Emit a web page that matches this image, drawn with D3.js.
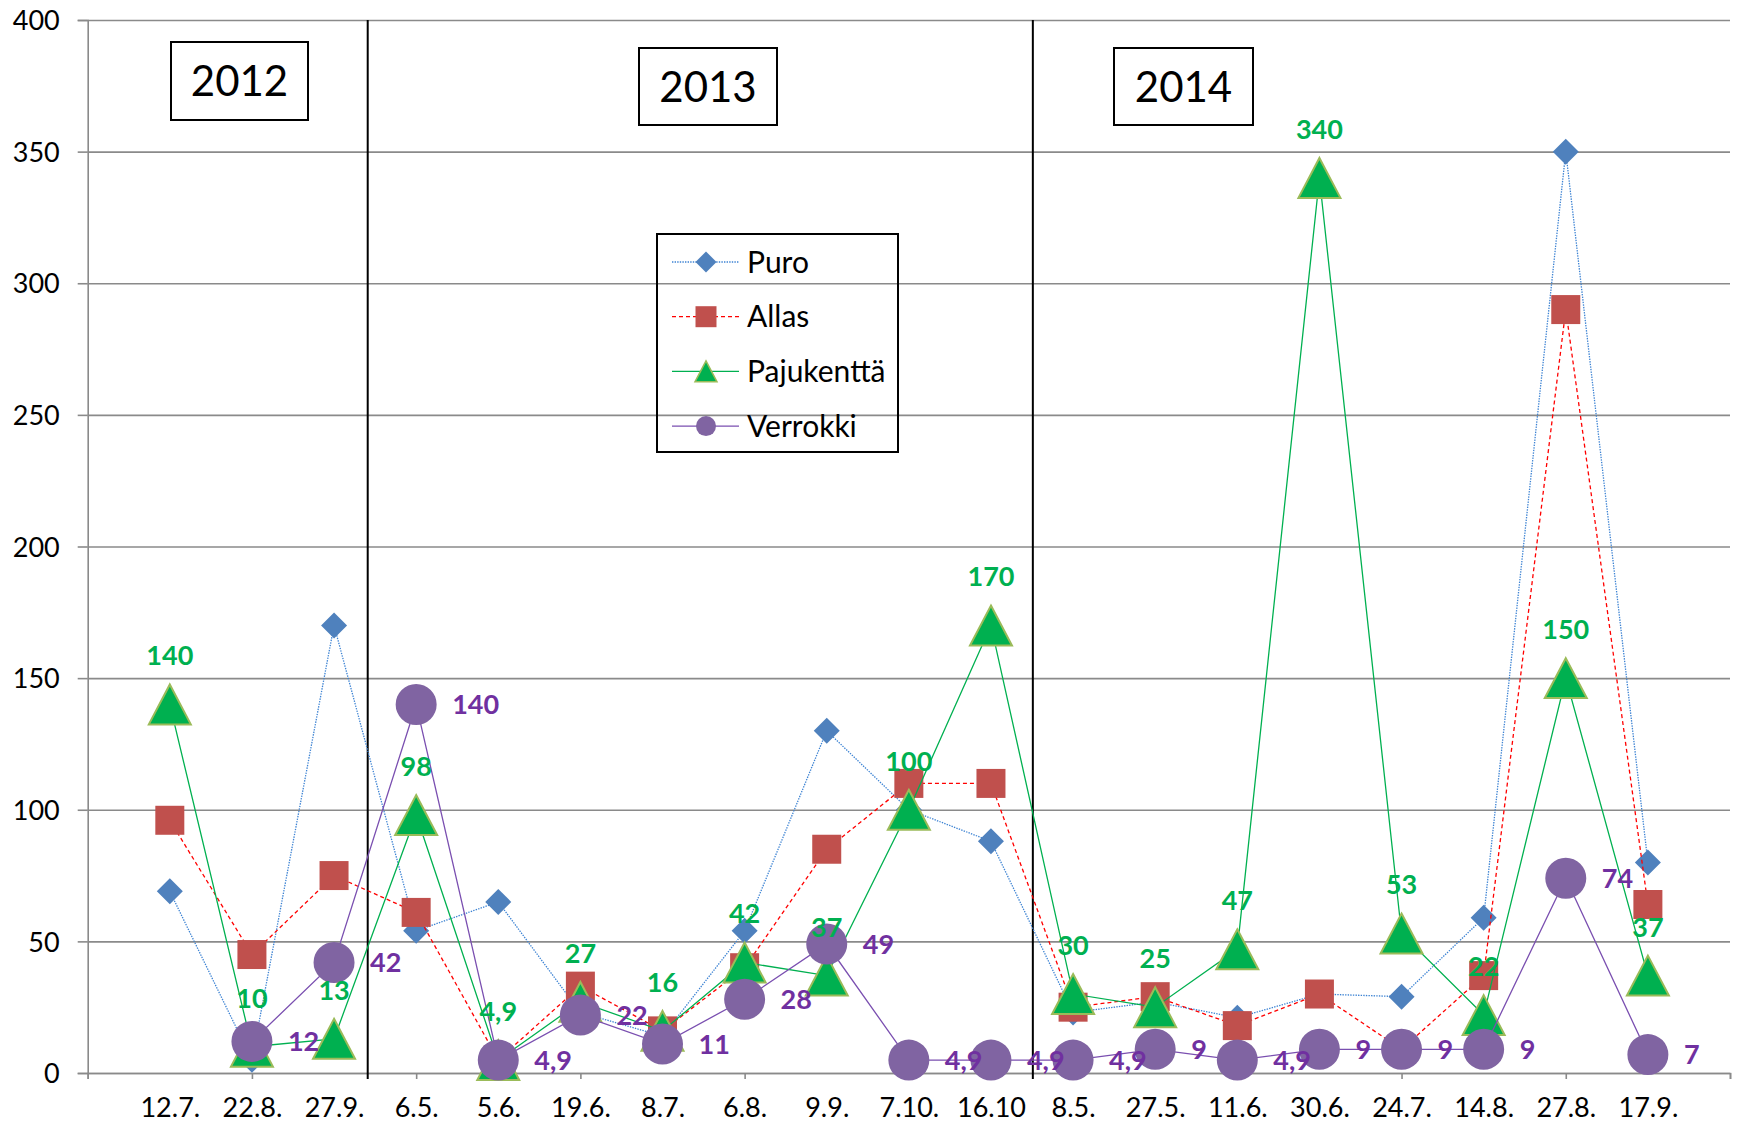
<!DOCTYPE html>
<html>
<head>
<meta charset="utf-8">
<script src="https://cdn.jsdelivr.net/npm/d3@7"></script>
<style>
  html, body { margin: 0; padding: 0; background: #fff; }
  svg { display: block; }
  text { font-family: Lato, "Open Sans", sans-serif; }
</style>
</head>
<body>
<svg id="chart" width="1740" height="1124"></svg>
<script>
// Sampling dates (category axis)
const dates = ["12.7.", "22.8.", "27.9.", "6.5.", "5.6.", "19.6.", "8.7.", "6.8.", "9.9.", "7.10.", "16.10",
               "8.5.", "27.5.", "11.6.", "30.6.", "24.7.", "14.8.", "27.8.", "17.9."];

// Measured values per site
const puro       = [69, 5, 170, 54, 65, 23, 14, 54, 130, 100, 88, 23, 27, 21, 30, 29, 59, 350, 80];
const allas      = [96, 45, 75, 61, 5, 33, 16, 40, 85, 110, 110, 25, 29, 18, 30, 9, 37, 290, 64];
const pajukentta = [140, 10, 13, 98, 4.9, 27, 16, 42, 37, 100, 170, 30, 25, 47, 340, 53, 22, 150, 37];
const verrokki   = [null, 12, 42, 140, 4.9, 22, 11, 28, 49, 4.9, 4.9, 4.9, 9, 4.9, 9, 9, 9, 74, 7];

const seriesNames = ["Puro", "Allas", "Pajukenttä", "Verrokki"];
const yTicks = [0, 50, 100, 150, 200, 250, 300, 350, 400];
const years = ["2012", "2013", "2014"];

// Year boundaries on the category axis and year box placement
const yearDividers = [3.41, 11.51];
const yearBoxes = [
  { x0: 171, x1: 308, y0: 42, y1: 120 },
  { x0: 639, x1: 777, y0: 48, y1: 125 },
  { x0: 1114, x1: 1253, y0: 48, y1: 125 }
];

const svg = d3.select("#chart");

const x = d3.scaleLinear().domain([0, 20]).range([87.7, 1730]);
const y = d3.scaleLinear().domain([0, 400]).range([1073, 20]);
const plotW = x.range()[1] - x.range()[0];

// Gridlines
svg.append("g")
  .attr("transform", `translate(${x(0)},0)`)
  .call(d3.axisLeft(y).tickValues(yTicks).tickSize(-plotW).tickFormat(""))
  .call(g => g.select(".domain").remove())
  .call(g => g.selectAll("line").attr("stroke", "#8a8a8a").attr("stroke-width", 1.6));

// Y axis
svg.append("g")
  .attr("transform", `translate(${x(0)},0)`)
  .call(d3.axisLeft(y).tickValues(yTicks).tickSize(10).tickPadding(18))
  .call(g => g.select(".domain").attr("stroke", "#8a8a8a").attr("stroke-width", 1.6))
  .call(g => g.selectAll("line").attr("stroke", "#8a8a8a").attr("stroke-width", 1.6))
  .call(g => g.selectAll("text").attr("font-size", 27).attr("fill", "#000")
    .attr("font-family", "Lato, sans-serif").attr("dy", "0.36em"));

// X axis with tick marks every second category
svg.append("g")
  .attr("transform", `translate(0,${y(0)})`)
  .call(d3.axisBottom(x).tickValues(d3.range(0, 21, 2)).tickSize(6).tickFormat(""))
  .call(g => g.select(".domain").attr("stroke", "#8a8a8a").attr("stroke-width", 1.6))
  .call(g => g.selectAll("line").attr("stroke", "#8a8a8a").attr("stroke-width", 1.6));

// Category labels
svg.append("g")
  .attr("transform", `translate(0,${y(0)})`)
  .call(d3.axisBottom(x).tickValues(d3.range(1, dates.length + 1))
    .tickFormat(i => dates[i - 1]).tickSize(0).tickPadding(25))
  .call(g => g.select(".domain").remove())
  .call(g => g.selectAll("text").attr("font-size", 27).attr("fill", "#000")
    .attr("font-family", "Lato, sans-serif"));

// Year dividers
svg.append("g").selectAll("line").data(yearDividers).join("line")
  .attr("x1", d => x(d)).attr("x2", d => x(d))
  .attr("y1", y(400)).attr("y2", y(0) + 6)
  .attr("stroke", "#000").attr("stroke-width", 2);

// Year boxes
const yb = svg.append("g").selectAll("g").data(yearBoxes).join("g");
yb.append("rect")
  .attr("x", d => d.x0).attr("y", d => d.y0)
  .attr("width", d => d.x1 - d.x0).attr("height", d => d.y1 - d.y0)
  .attr("fill", "#fff").attr("stroke", "#000").attr("stroke-width", 2);
yb.append("text")
  .attr("x", d => (d.x0 + d.x1) / 2).attr("y", d => (d.y0 + d.y1) / 2 + 15)
  .attr("text-anchor", "middle").attr("font-size", 42).attr("fill", "#000")
  .text((d, i) => years[i]);

// Marker shapes
const shapes = {
  diamond: r => `M0,${-r}L${r},0L0,${r}L${-r},0Z`,
  square: r => `M${-r},${-r}H${r}V${r}H${-r}Z`,
  triangle: r => `M0,${-r * 0.95}L${r},${r * 0.95}L${-r},${r * 0.95}Z`,
  circle: r => `M${r},0A${r},${r} 0 1,1 ${-r},0A${r},${r} 0 1,1 ${r},0Z`
};

const series = [
  { name: seriesNames[0], values: puro, line: "#3d83d3", lw: 1.3, dash: "1.4 1.2",
    shape: "diamond", size: 13, legendSize: 10.5, fill: "#4f81bd", stroke: "none" },
  { name: seriesNames[1], values: allas, line: "#ff0000", lw: 1.3, dash: "4 3",
    shape: "square", size: 14.5, legendSize: 10.5, fill: "#c0504d", stroke: "none" },
  { name: seriesNames[2], values: pajukentta, line: "#00b050", lw: 1.3, dash: null,
    shape: "triangle", size: 21, legendSize: 11, fill: "#00b050", stroke: "#9bbb59" },
  { name: seriesNames[3], values: verrokki, line: "#7a4fb0", lw: 1.3, dash: null,
    shape: "circle", size: 20.5, legendSize: 10, fill: "#8064a2", stroke: "none" }
];

const line = d3.line()
  .defined(d => d.v != null)
  .x(d => x(d.i + 1))
  .y(d => y(d.v));

series.forEach(s => {
  const pts = s.values.map((v, i) => ({ i, v }));
  const g = svg.append("g");
  g.append("path")
    .datum(pts)
    .attr("d", line)
    .attr("fill", "none")
    .attr("stroke", s.line)
    .attr("stroke-width", s.lw)
    .attr("stroke-dasharray", s.dash);
  g.selectAll("path.m").data(pts.filter(d => d.v != null)).join("path")
    .attr("class", "m")
    .attr("transform", d => `translate(${x(d.i + 1)},${y(d.v)})`)
    .attr("d", shapes[s.shape](s.size))
    .attr("fill", s.fill)
    .attr("stroke", s.stroke)
    .attr("stroke-width", s.stroke === "none" ? 0 : 2);
});

const fmt = v => String(v).replace(".", ",");

// Data labels: Pajukenttä above the markers, Verrokki to the right
svg.append("g").selectAll("text")
  .data(pajukentta.map((v, i) => ({ i, v })))
  .join("text")
  .attr("x", d => x(d.i + 1))
  .attr("y", d => y(d.v) - 39)
  .attr("text-anchor", "middle")
  .attr("font-size", 27).attr("font-weight", 700).attr("fill", "#00b050")
  .text(d => fmt(d.v));

svg.append("g").selectAll("text")
  .data(verrokki.map((v, i) => ({ i, v })).filter(d => d.v != null))
  .join("text")
  .attr("x", d => x(d.i + 1) + 36)
  .attr("y", d => y(d.v) + 9.5)
  .attr("text-anchor", "start")
  .attr("font-size", 27).attr("font-weight", 700).attr("fill", "#7030a0")
  .text(d => fmt(d.v));

// Legend
const legend = svg.append("g");
legend.append("rect")
  .attr("x", 657).attr("y", 234).attr("width", 241).attr("height", 218)
  .attr("fill", "none").attr("stroke", "#000").attr("stroke-width", 2);
const li = legend.selectAll("g.item").data(series).join("g")
  .attr("class", "item")
  .attr("transform", (d, i) => `translate(0,${262 + i * 54.7})`);
li.append("line")
  .attr("x1", 672).attr("x2", 739)
  .attr("stroke", d => d.line).attr("stroke-width", d => d.lw)
  .attr("stroke-dasharray", d => d.dash);
li.append("path")
  .attr("transform", "translate(706,0)")
  .attr("d", d => shapes[d.shape](d.legendSize))
  .attr("fill", d => d.fill)
  .attr("stroke", d => d.stroke)
  .attr("stroke-width", d => d.stroke === "none" ? 0 : 1.5);
li.append("text")
  .attr("x", 747).attr("y", 10.5)
  .attr("font-size", 30).attr("fill", "#000")
  .text(d => d.name);
</script>
</body>
</html>
